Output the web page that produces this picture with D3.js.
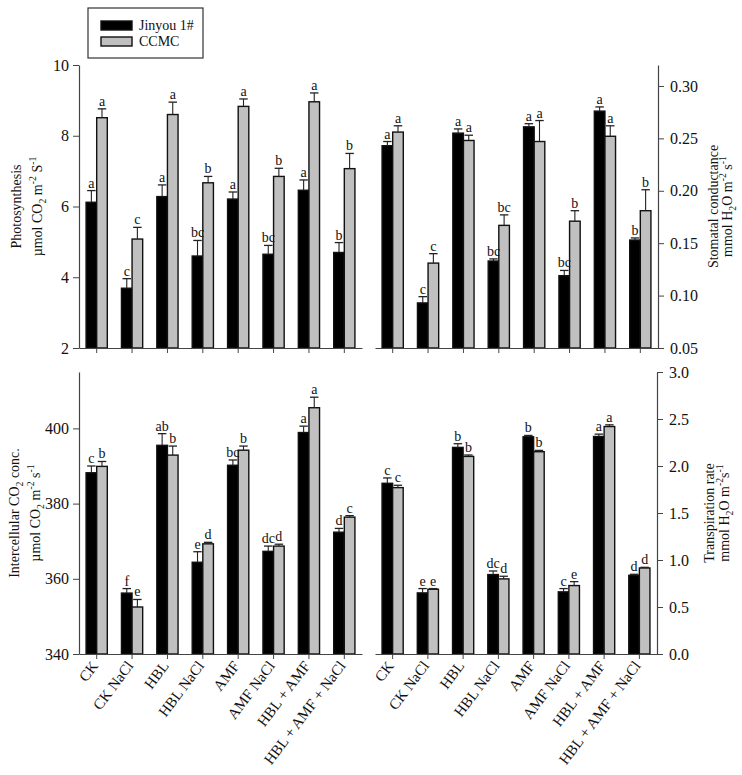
<!DOCTYPE html>
<html>
<head>
<meta charset="utf-8">
<script src="https://cdn.jsdelivr.net/npm/d3@7"></script>
<style>
  html, body { margin: 0; padding: 0; background: #fff; }
  svg { display: block; font-family: "Liberation Serif", "Times New Roman", serif; }
</style>
</head>
<body>
<svg id="chart" width="742" height="775"></svg>
<script>
// ---------------- DATA ----------------
const categories = ["CK", "CK NaCl", "HBL", "HBL NaCl", "AMF", "AMF NaCl", "HBL + AMF", "HBL + AMF + NaCl"];
const seriesNames = ["Jinyou 1#", "CCMC"];

// Photosynthesis (µmol CO2 m-2 s-1)
const photoJinyou = [6.12, 3.69, 6.28, 4.60, 6.21, 4.65, 6.46, 4.70];
const photoJinyouErr = [0.33, 0.27, 0.33, 0.44, 0.20, 0.25, 0.29, 0.28];
const photoCCMC = [8.51, 5.08, 8.60, 6.67, 8.83, 6.85, 8.96, 7.07];
const photoCCMCErr = [0.25, 0.33, 0.35, 0.18, 0.21, 0.23, 0.25, 0.43];
const photoJinyouLetters = ["a", "c", "a", "bc", "a", "bc", "a", "b"];
const photoCCMCLetters = ["a", "c", "a", "b", "a", "b", "a", "b"];
const photoTicks = [2, 4, 6, 8, 10];

// Stomatal conductance (mmol H2O m-2 s-1)
const gsJinyou = [0.243, 0.093, 0.255, 0.133, 0.261, 0.119, 0.276, 0.153];
const gsJinyouErr = [0.004, 0.006, 0.004, 0.002, 0.003, 0.005, 0.004, 0.002];
const gsCCMC = [0.256, 0.131, 0.248, 0.167, 0.247, 0.171, 0.252, 0.181];
const gsCCMCErr = [0.006, 0.009, 0.005, 0.010, 0.020, 0.010, 0.010, 0.020];
const gsJinyouLetters = ["a", "c", "a", "bc", "a", "bc", "a", "b"];
const gsCCMCLetters = ["a", "c", "a", "bc", "a", "b", "a", "b"];
const gsTicks = [0.05, 0.10, 0.15, 0.20, 0.25, 0.30];

// Intercellular CO2 concentration
const ciJinyou = [388.2, 356.2, 395.5, 364.4, 390.2, 367.3, 398.9, 372.4];
const ciJinyouErr = [1.8, 1.2, 3.1, 2.8, 1.4, 1.4, 1.7, 1.0];
const ciCCMC = [389.9, 352.5, 392.9, 369.3, 394.2, 368.7, 405.5, 376.4];
const ciCCMCErr = [1.3, 2.0, 2.4, 0.4, 1.1, 0.5, 2.8, 0.4];
const ciJinyouLetters = ["c", "f", "ab", "e", "bc", "dc", "a", "d"];
const ciCCMCLetters = ["b", "e", "b", "d", "b", "d", "a", "c"];
const ciTicks = [340, 360, 380, 400];

// Transpiration rate (mmol H2O m-2 s-1)
const trJinyou = [1.816, 0.650, 2.198, 0.845, 2.311, 0.661, 2.314, 0.837];
const trJinyouErr = [0.057, 0.046, 0.039, 0.038, 0.014, 0.035, 0.025, 0.011];
const trCCMC = [1.770, 0.689, 2.102, 0.799, 2.152, 0.728, 2.420, 0.915];
const trCCMCErr = [0.025, 0.007, 0.015, 0.028, 0.014, 0.042, 0.018, 0.007];
const trJinyouLetters = ["c", "e", "b", "dc", "b", "c", "a", "d"];
const trCCMCLetters = ["c", "e", "b", "d", "b", "e", "a", "d"];
const trTicks = [0, 0.5, 1.0, 1.5, 2.0, 2.5, 3.0];

// ---------------- DRAWING ----------------
const svg = d3.select("#chart");
const AXIS = "#444";
const GRAY = "#c0c0c0";
const FONT = 14;
const TICKFONT = 16;
const XLABFONT = 15;

function richText(sel, parts, size) {
  let pending = 0;
  parts.forEach(([str, kind]) => {
    const t = sel.append("tspan").text(str);
    let dy = pending;
    pending = 0;
    if (kind === "sub") { t.attr("font-size", size * 0.7); dy += 4; pending = -4; }
    else if (kind === "sup") { t.attr("font-size", size * 0.7); dy += -6; pending = 6; }
    if (dy !== 0) t.attr("dy", dy);
  });
}

function panel(cfg) {
  const x = d3.scaleBand().domain(categories).range([cfg.x0, cfg.x1]).paddingInner(0.4).paddingOuter(0.2);
  const y = d3.scaleLinear().domain(cfg.domain).range([cfg.y1, cfg.y0]);
  const xs = d3.scaleBand().domain(seriesNames).range([0, x.bandwidth()]);
  const g = svg.append("g");

  const data = [];
  categories.forEach((c, i) => {
    data.push({ c, s: seriesNames[0], v: cfg.a[i], e: cfg.ae[i], l: cfg.al[i] });
    data.push({ c, s: seriesNames[1], v: cfg.b[i], e: cfg.be[i], l: cfg.bl[i] });
  });

  // bars
  g.selectAll("rect.bar").data(data).enter().append("rect")
    .attr("x", d => x(d.c) + xs(d.s))
    .attr("y", d => y(d.v))
    .attr("width", xs.bandwidth())
    .attr("height", d => y(cfg.domain[0]) - y(d.v))
    .attr("fill", d => d.s === seriesNames[0] ? "#000" : GRAY)
    .attr("stroke", "#111").attr("stroke-width", 1.4);

  // error bars (upper)
  const capW = xs.bandwidth() * 0.8;
  data.forEach(d => {
    const cx = x(d.c) + xs(d.s) + xs.bandwidth() / 2;
    g.append("line").attr("x1", cx).attr("x2", cx).attr("y1", y(d.v)).attr("y2", y(d.v + d.e))
      .attr("stroke", "#222").attr("stroke-width", 1.1);
    g.append("line").attr("x1", cx - capW / 2).attr("x2", cx + capW / 2)
      .attr("y1", y(d.v + d.e)).attr("y2", y(d.v + d.e))
      .attr("stroke", "#222").attr("stroke-width", 1.3);
    g.append("text").attr("x", cx).attr("y", y(d.v + d.e) - 3)
      .attr("text-anchor", "middle").attr("font-size", FONT).attr("fill", "#111").text(d.l);
  });

  // x axis
  const xa = g.append("g").attr("transform", `translate(0,${cfg.y1})`)
    .call(d3.axisBottom(x).tickSize(5).tickSizeOuter(0).tickFormat(cfg.xLabels ? d => d : ""));
  xa.select(".domain").attr("stroke", AXIS).attr("stroke-width", 1.2);
  xa.selectAll(".tick line").attr("stroke", AXIS);
  if (cfg.xLabels) {
    xa.selectAll(".tick text")
      .attr("font-size", XLABFONT).attr("font-family", "Liberation Serif").attr("fill", "#111")
      .attr("text-anchor", "end")
      .attr("x", 0).attr("y", 0).attr("dy", 0)
      .attr("transform", "translate(2,12) rotate(-53)");
  }

  // y axis
  const ax = cfg.right ? d3.axisRight(y) : d3.axisLeft(y);
  const ya = g.append("g").attr("transform", `translate(${cfg.right ? cfg.x1 : cfg.x0},0)`)
    .call(ax.tickValues(cfg.ticks).tickSize(6).tickPadding(cfg.right ? 6 : 4).tickSizeOuter(0).tickFormat(cfg.fmt));
  ya.select(".domain").attr("stroke", AXIS).attr("stroke-width", 1.2);
  ya.selectAll(".tick line").attr("stroke", AXIS);
  ya.selectAll(".tick text").attr("font-size", TICKFONT).attr("font-family", "Liberation Serif").attr("fill", "#111");

  // axis titles
  const cy = (cfg.y0 + cfg.y1) / 2;
  cfg.titles.forEach((parts, k) => {
    const t = svg.append("text")
      .attr("transform", `translate(${cfg.titleX[k]},${cy}) rotate(-90)`)
      .attr("text-anchor", "middle").attr("font-size", FONT).attr("fill", "#111");
    richText(t, parts, FONT);
  });
}

panel({
  x0: 79, x1: 362, y0: 65, y1: 348, domain: [2, 10], ticks: photoTicks, fmt: d3.format("d"),
  a: photoJinyou, ae: photoJinyouErr, b: photoCCMC, be: photoCCMCErr, al: photoJinyouLetters, bl: photoCCMCLetters,
  titleX: [21, 42],
  titles: [[["Photosynthesis", "n"]], [["\u00B5mol CO", "n"], ["2", "sub"], [" m", "n"], ["-2", "sup"], [" S", "n"], ["-1", "sup"]]]
});
panel({
  x0: 375, x1: 658, y0: 65, y1: 348, domain: [0.05, 0.32], ticks: gsTicks, fmt: d3.format(".2f"), right: true,
  a: gsJinyou, ae: gsJinyouErr, b: gsCCMC, be: gsCCMCErr, al: gsJinyouLetters, bl: gsCCMCLetters,
  titleX: [718, 732],
  titles: [[["Stomatal conductance", "n"]], [["mmol H", "n"], ["2", "sub"], ["O m", "n"], ["-2", "sup"], [" s", "n"], ["-1", "sup"]]]
});
panel({
  x0: 79, x1: 362, y0: 372, y1: 654, domain: [340, 415], ticks: ciTicks, fmt: d3.format("d"), xLabels: true,
  a: ciJinyou, ae: ciJinyouErr, b: ciCCMC, be: ciCCMCErr, al: ciJinyouLetters, bl: ciCCMCLetters,
  titleX: [19, 40],
  titles: [[["Intercellular CO", "n"], ["2", "sub"], [" conc.", "n"]], [["\u00B5mol CO", "n"], ["2", "sub"], [" m", "n"], ["-2", "sup"], [" s", "n"], ["-1", "sup"]]]
});
panel({
  x0: 375, x1: 657, y0: 372, y1: 654, domain: [0, 3], ticks: trTicks, fmt: d3.format(".1f"), right: true, xLabels: true,
  a: trJinyou, ae: trJinyouErr, b: trCCMC, be: trCCMCErr, al: trJinyouLetters, bl: trCCMCLetters,
  titleX: [714, 729],
  titles: [[["Transpiration rate", "n"]], [["mmol H", "n"], ["2", "sub"], ["O m", "n"], ["-2", "sup"], ["s", "n"], ["-1", "sup"]]]
});

// legend
const lg = svg.append("g");
lg.append("rect").attr("x", 88).attr("y", 8).attr("width", 115).attr("height", 50)
  .attr("fill", "#fff").attr("stroke", "#333").attr("stroke-width", 1.2);
seriesNames.forEach((s, i) => {
  lg.append("rect").attr("x", 101).attr("y", 21 + i * 16).attr("width", 31).attr("height", 9)
    .attr("fill", i === 0 ? "#000" : GRAY).attr("stroke", "#111").attr("stroke-width", 1.4);
  lg.append("text").attr("x", 139).attr("y", 30 + i * 16).attr("font-size", FONT).attr("fill", "#111").text(s);
});
</script>
</body>
</html>
